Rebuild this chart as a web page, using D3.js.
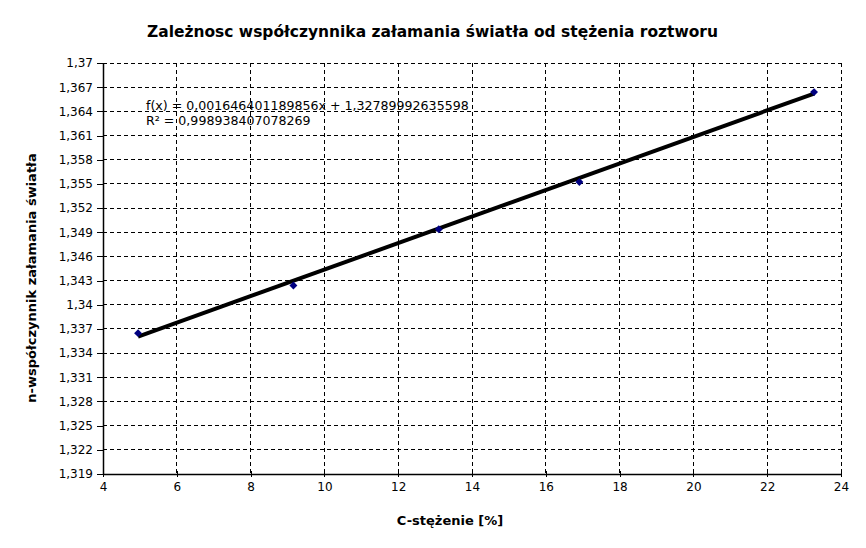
<!DOCTYPE html>
<html><head><meta charset="utf-8">
<script src="https://cdn.jsdelivr.net/npm/d3@7"></script>
<style>body{margin:0;background:#fff}svg{display:block}text{font-family:"DejaVu Sans",sans-serif}</style>
</head><body>
<script>
const concentration = [4.95, 9.16, 13.1, 16.91, 23.27];
const refractiveIndex = [1.33648, 1.34239, 1.34937, 1.35523, 1.36639];
const slope = 0.001646401189856, intercept = 1.32789992635598;
const xTicks = [4,6,8,10,12,14,16,18,20,22,24];
const yTicks = d3.range(0,18).map(i => +(1.319 + i*0.003).toFixed(3));
const title = "Zależnosc współczynnika załamania światła od stężenia roztworu";
const xLabel = "C-stężenie [%]";
const yLabel = "n-współczynnik załamania światła";
const eqText = ["f(x) = 0,001646401189856x + 1,32789992635598", "R² = 0,998938407078269"];

const W=866,H=548, L=103,R=841,T=63,B=474;
const svg=d3.select("body").append("svg").attr("width",W).attr("height",H);
const x=d3.scaleLinear().domain([4,24]).range([L,R]);
const y=d3.scaleLinear().domain([1.319,1.37]).range([B,T]);
const fmt=d=>String(d).replace(".",",");

// grid
svg.append("g").selectAll("line").data(yTicks.slice(1)).join("line")
 .attr("x1",L).attr("x2",R).attr("y1",d=>y(d)).attr("y2",d=>y(d))
 .attr("stroke","#000").attr("stroke-dasharray","4,3").attr("shape-rendering","crispEdges");
svg.append("g").selectAll("line").data(xTicks.slice(1)).join("line")
 .attr("x1",d=>x(d)).attr("x2",d=>x(d)).attr("y1",T).attr("y2",B)
 .attr("stroke","#000").attr("stroke-dasharray","4,3").attr("shape-rendering","crispEdges");

// axes
const ax=svg.append("g").attr("transform",`translate(0,${B})`)
 .call(d3.axisBottom(x).tickValues(xTicks).tickFormat(fmt).tickSize(3).tickSizeOuter(0));
ax.selectAll(".tick line").attr("y1",-3);
const ay=svg.append("g").attr("transform",`translate(${L},0)`)
 .call(d3.axisLeft(y).tickValues(yTicks).tickFormat(fmt).tickSize(6).tickSizeOuter(0));
[ax,ay].forEach(a=>{a.selectAll("text").attr("font-size",12).attr("font-family","DejaVu Sans").attr("fill","#000");
 a.select(".domain").attr("stroke-width",1.5); a.selectAll(".tick line").attr("shape-rendering","crispEdges");});
ax.selectAll("text").attr("dy","0.95em");
ay.selectAll("text").attr("dx","-1");

// trend line
const xs=[d3.min(concentration), d3.max(concentration)];
svg.append("line").attr("x1",x(xs[0])).attr("y1",y(slope*xs[0]+intercept))
 .attr("x2",x(xs[1])).attr("y2",y(slope*xs[1]+intercept))
 .attr("stroke","#000").attr("stroke-width",4);

// points
svg.append("g").selectAll("path").data(concentration).join("path")
 .attr("d",d3.symbol(d3.symbolDiamond2,40))
 .attr("transform",(d,i)=>`translate(${x(d)},${y(refractiveIndex[i])})`)
 .attr("fill","#000080");

// equation
svg.append("g").selectAll("text").data(eqText).join("text")
 .attr("x",146).attr("y",(d,i)=>110+i*15).attr("font-size",12.6).text(d=>d);

// titles
svg.append("text").attr("x",432.5).attr("y",37).attr("text-anchor","middle")
 .attr("font-size",15).attr("font-weight","bold").attr("textLength",571).attr("lengthAdjust","spacingAndGlyphs").text(title);
svg.append("text").attr("x",450).attr("y",525).attr("text-anchor","middle")
 .attr("font-size",13).attr("font-weight","bold").text(xLabel);
svg.append("text").attr("transform","translate(36,278) rotate(-90)").attr("text-anchor","middle")
 .attr("font-size",13).attr("font-weight","bold").text(yLabel);
</script>
</body></html>
